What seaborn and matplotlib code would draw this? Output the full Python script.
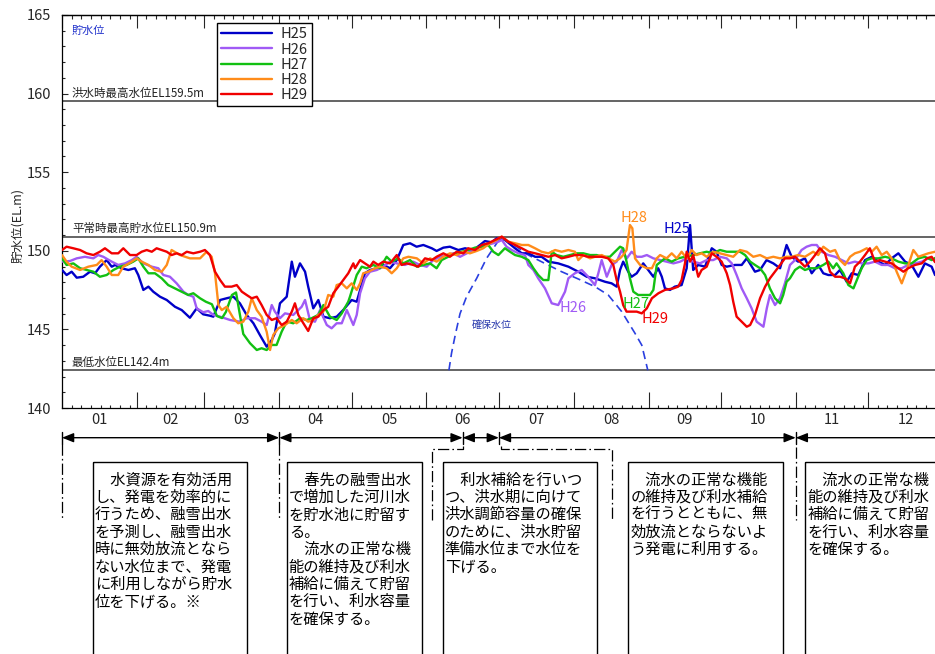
import matplotlib
matplotlib.use("Agg")
import matplotlib.pyplot as plt
from matplotlib.patches import Rectangle, FancyArrowPatch
from matplotlib.transforms import blended_transform_factory
import seaborn as sns

# ---------------------------------------------------------------------------
# Reservoir water level (EL. m) by day of year, one series per fiscal year
# ---------------------------------------------------------------------------
H25_DAY = [0, 1.9, 4.0, 6.1, 8.8, 11.6, 13.7, 15.7, 18.5, 20.6,
           22.0, 24.7, 27.5, 30.2, 31.6, 33.7, 35.8, 37.8, 40.6, 43.4,
           46.8, 49.6, 53.0, 55.8, 58.5, 61.3, 62.7, 65.5, 68.2, 71.0,
           73.7, 76.5, 79.3, 82.0, 84.8, 86.9, 88.2, 90.3, 93.1, 95.2,
           96.5, 98.6, 100.7, 102.0, 104.1, 106.2, 108.3, 111.0, 113.8, 116.5,
           120.0, 122.1, 125.5, 127.6, 130.4, 133.1, 135.9, 138.7, 141.4, 144.2,
           146.9, 149.7, 153.2, 155.2, 158.0, 160.7, 164.2, 167.0, 170.4, 173.2,
           175.2, 178.0, 180.1, 183.5, 187.7, 190.5, 193.2, 196.0, 198.7, 201.5,
           205.6, 209.8, 213.9, 217.4, 220.8, 225.0, 227.7, 229.8, 231.2, 232.5,
           234.6, 236.0, 238.1, 240.8, 242.9, 245.0, 247.0, 248.5, 249.8, 251.9,
           253.9, 256.7, 258.8, 260.2, 261.5, 263.6, 266.4, 269.2, 271.2, 273.3,
           275.4, 278.8, 281.6, 283.7, 287.1, 289.2, 291.9, 294.7, 297.5, 300.2,
           302.3, 305.0, 307.8, 310.6, 313.3, 315.4, 317.5, 320.3, 322.3, 325.1,
           327.2, 329.9, 332.7, 335.5, 338.2, 341.0, 343.7, 346.5, 349.3, 352.0,
           354.8, 357.5, 360.3, 361.7, 365.0]
H25_LEVEL = [148.78, 148.46, 148.67, 148.29, 148.35, 148.67, 148.57, 148.99, 149.41, 148.99,
             149.10, 148.89, 148.78, 148.89, 148.46, 147.51, 147.72, 147.40, 147.08, 146.87,
             146.44, 146.23, 145.74, 146.34, 145.96, 145.87, 145.81, 146.87, 146.98, 147.08,
             146.66, 145.92, 145.39, 144.64, 143.90, 144.33, 144.75, 146.66, 147.08, 149.31,
             148.35, 149.20, 148.67, 147.72, 146.34, 146.87, 145.81, 145.71, 145.81, 146.23,
             146.87, 146.76, 148.57, 148.78, 148.89, 149.10, 148.89, 149.41, 150.37, 150.48,
             150.26, 150.37, 150.16, 149.99, 150.20, 150.26, 150.05, 150.16, 150.05, 150.37,
             150.62, 150.54, 150.80, 150.69, 150.16, 149.84, 149.84, 149.62, 149.62, 149.31,
             149.20, 148.99, 148.67, 148.35, 148.25, 148.03, 147.93, 147.72, 148.78, 149.31,
             148.67, 148.35, 148.57, 149.20, 148.78, 148.35, 148.89, 148.35, 147.61, 147.51,
             147.72, 147.82, 148.89, 151.64, 148.78, 149.10, 148.99, 150.16, 149.94, 149.10,
             148.99, 149.10, 149.10, 149.52, 148.67, 148.78, 149.41, 149.20, 148.89, 150.37,
             149.62, 149.31, 149.52, 148.57, 149.10, 148.57, 148.46, 148.46, 148.78, 148.03,
             148.57, 148.46, 149.41, 149.62, 149.31, 149.10, 149.52, 149.84, 149.31, 149.10,
             148.35, 149.20, 148.99, 148.46, 148.80]

H26_DAY = [0, 3.3, 6.1, 9.5, 13.0, 15.0, 17.1, 20.6, 23.3, 26.1,
           28.9, 30.9, 33.7, 37.2, 39.9, 42.0, 44.7, 47.5, 50.3, 52.3,
           54.4, 55.8, 58.5, 60.6, 62.7, 65.5, 69.6, 73.7, 76.5, 80.0,
           82.7, 84.8, 86.9, 88.2, 90.3, 92.4, 95.8, 99.3, 100.7, 102.7,
           104.8, 106.9, 109.7, 111.7, 113.8, 115.9, 118.0, 120.7, 122.1, 123.5,
           125.5, 127.6, 130.4, 133.1, 135.9, 138.7, 142.1, 145.5, 148.3, 151.1,
           153.8, 156.6, 159.4, 162.1, 164.9, 167.7, 170.4, 173.2, 175.9, 178.7,
           180.8, 182.2, 184.2, 186.3, 189.1, 191.8, 193.2, 195.3, 197.3, 200.1,
           202.9, 205.6, 208.4, 209.8, 212.5, 215.3, 218.0, 220.8, 222.2, 223.6,
           225.7, 227.7, 229.8, 231.9, 234.0, 236.0, 238.1, 240.2, 242.3, 245.0,
           247.8, 250.5, 253.3, 256.1, 258.8, 261.6, 264.3, 267.1, 269.8, 272.6,
           275.4, 277.5, 279.5, 281.6, 283.7, 285.7, 287.8, 290.6, 292.0, 293.3,
           295.4, 297.5, 299.5, 301.6, 303.7, 306.4, 308.5, 310.6, 312.7, 314.7,
           317.5, 320.3, 323.0, 325.8, 328.5, 331.3, 334.1, 336.8, 339.6, 342.3,
           345.1, 347.9, 350.6, 353.4, 356.2, 358.9, 361.7, 365.0]
H26_LEVEL = [149.31, 149.35, 149.52, 149.62, 149.52, 149.73, 149.62, 149.31, 149.10, 149.20,
             149.41, 149.62, 149.20, 148.99, 148.89, 148.46, 148.35, 147.93, 147.40, 147.19,
             147.08, 146.34, 146.09, 146.17, 145.92, 145.81, 145.60, 145.49, 145.71, 145.71,
             145.49, 145.28, 146.55, 146.13, 145.71, 146.02, 145.92, 146.44, 146.87, 145.60,
             145.49, 146.23, 145.28, 145.07, 145.39, 145.39, 146.23, 145.28, 145.92, 147.30,
             148.25, 148.67, 148.78, 148.99, 149.31, 149.20, 149.10, 149.31, 149.10, 148.99,
             149.41, 149.62, 149.73, 149.84, 149.62, 149.84, 150.05, 150.26, 150.37, 150.48,
             150.58, 150.69, 150.26, 150.05, 149.84, 149.73, 149.10, 148.78, 148.25, 147.61,
             146.66, 146.55, 147.40, 148.25, 148.57, 148.78, 148.35, 147.82, 148.57, 149.41,
             148.35, 149.10, 149.31, 150.05, 149.52, 149.94, 149.62, 149.62, 149.73, 149.52,
             149.41, 149.31, 149.20, 149.31, 149.52, 149.31, 149.20, 149.41, 149.41, 149.62,
             149.52, 149.20, 148.46, 147.61, 146.98, 146.34, 145.49, 145.17, 146.34, 147.19,
             146.55, 146.98, 147.93, 149.10, 149.41, 150.05, 150.26, 150.37, 150.37, 149.94,
             149.73, 149.62, 149.41, 149.20, 149.31, 149.20, 149.20, 149.31, 149.10, 149.10,
             148.89, 148.89, 149.10, 149.20, 149.31, 149.52, 149.41, 149.30]

H27_DAY = [0, 1.9, 4.7, 7.5, 10.2, 13.0, 15.7, 18.5, 21.3, 24.0,
           26.8, 29.5, 31.6, 33.7, 35.8, 38.5, 41.3, 44.0, 46.8, 49.6,
           52.3, 54.4, 57.2, 59.6, 62.1, 64.2, 66.3, 67.9, 70.4, 72.1,
           73.5, 75.1, 77.9, 80.7, 82.7, 84.8, 86.9, 88.9, 91.0, 93.1,
           95.8, 98.6, 101.4, 103.4, 106.2, 108.3, 111.0, 113.8, 115.9, 118.6,
           119.3, 122.1, 124.2, 126.2, 129.0, 131.7, 134.5, 136.6, 139.3, 141.4,
           144.2, 147.0, 149.7, 152.5, 155.2, 157.3, 160.0, 162.8, 165.6, 168.3,
           171.1, 173.9, 176.6, 178.7, 180.8, 183.5, 185.6, 187.7, 190.5, 193.2,
           195.3, 197.3, 199.4, 201.5, 202.9, 204.9, 207.7, 210.5, 213.2, 216.0,
           218.8, 221.5, 224.3, 227.0, 229.1, 231.2, 232.5, 233.9, 235.3, 236.7,
           238.7, 240.8, 243.6, 245.0, 246.4, 249.8, 252.6, 255.3, 258.1, 261.5,
           264.3, 267.1, 269.8, 272.6, 275.4, 278.1, 280.9, 283.0, 285.1, 287.1,
           289.2, 291.3, 293.3, 295.4, 297.5, 298.8, 300.2, 301.6, 303.7, 305.7,
           307.8, 309.9, 312.7, 315.4, 317.5, 319.5, 320.9, 323.7, 325.8, 327.9,
           329.3, 331.3, 333.4, 335.5, 338.2, 341.0, 343.7, 346.5, 349.3, 352.0,
           354.8, 357.5, 360.3, 361.7, 365.0]
H27_LEVEL = [149.52, 149.10, 149.20, 148.89, 148.78, 148.67, 148.35, 148.46, 148.78, 148.99,
             149.10, 149.31, 149.52, 148.99, 148.57, 148.57, 148.25, 147.82, 147.61, 147.40,
             147.19, 147.30, 146.98, 146.76, 146.60, 145.85, 145.72, 146.11, 147.19, 147.35,
             146.11, 144.71, 144.12, 143.69, 143.80, 143.69, 144.01, 144.01, 144.85, 145.50,
             145.39, 145.71, 145.60, 145.71, 145.92, 146.55, 145.81, 145.60, 146.02, 146.76,
             147.08, 148.46, 148.99, 148.89, 149.10, 148.89, 149.62, 149.31, 149.52, 149.20,
             149.41, 148.99, 149.10, 149.20, 148.89, 149.41, 149.62, 149.84, 149.94, 150.05,
             150.20, 150.26, 150.37, 149.94, 149.73, 150.16, 149.94, 149.73, 149.62, 149.41,
             148.89, 148.46, 148.14, 148.14, 149.94, 149.73, 149.62, 149.73, 149.84, 149.84,
             149.73, 149.73, 149.62, 149.62, 149.94, 150.26, 150.16, 149.31, 148.25, 147.40,
             147.19, 147.19, 147.19, 147.51, 149.10, 149.52, 149.31, 149.52, 149.62, 149.73,
             149.84, 149.94, 149.84, 150.05, 149.94, 149.94, 149.94, 149.73, 149.31, 149.10,
             148.89, 148.46, 147.61, 146.98, 146.66, 147.19, 148.03, 148.25, 148.78, 148.99,
             148.78, 148.89, 148.89, 149.10, 149.31, 148.89, 149.20, 148.57, 147.82, 147.61,
             148.14, 148.89, 149.41, 149.52, 149.52, 149.62, 149.52, 149.31, 149.20, 149.20,
             149.52, 149.62, 149.41, 149.54, 149.50]

H28_DAY = [0, 1.9, 4.0, 7.5, 10.9, 14.4, 16.4, 18.5, 20.6, 23.3,
           25.4, 28.9, 30.9, 33.0, 35.8, 38.5, 41.3, 43.4, 45.4, 48.9,
           53.0, 57.2, 59.9, 62.0, 63.4, 64.8, 66.2, 68.2, 71.0, 73.0,
           75.1, 77.2, 78.6, 80.7, 82.7, 84.8, 86.2, 87.5, 89.6, 92.4,
           95.2, 97.2, 100.0, 102.0, 104.1, 106.2, 108.3, 110.3, 112.4, 113.8,
           115.9, 118.0, 120.0, 122.1, 123.5, 124.8, 126.9, 129.7, 131.7, 134.5,
           136.6, 138.7, 141.4, 143.5, 147.0, 149.7, 152.5, 155.2, 158.0, 160.7,
           163.5, 166.3, 169.0, 171.8, 174.5, 177.3, 180.1, 182.2, 184.9, 187.7,
           190.5, 193.2, 196.0, 198.7, 201.5, 204.3, 207.0, 209.8, 212.5, 213.9,
           216.0, 218.8, 220.8, 223.6, 226.3, 229.1, 231.2, 232.5, 233.9, 235.3,
           236.3, 237.4, 239.5, 242.3, 244.4, 246.4, 247.8, 250.5, 252.6, 254.7,
           256.7, 258.8, 260.9, 262.9, 265.0, 267.1, 269.8, 272.6, 275.4, 278.1,
           280.9, 283.7, 286.4, 289.2, 292.0, 294.7, 297.5, 300.2, 302.3, 305.0,
           307.8, 311.2, 313.3, 315.4, 318.2, 320.3, 322.3, 324.4, 326.5, 328.5,
           330.6, 333.4, 335.5, 337.5, 339.6, 341.7, 343.7, 345.8, 347.9, 350.0,
           352.7, 354.8, 356.8, 358.9, 361.7, 365.0]
H28_LEVEL = [149.73, 149.31, 148.99, 148.78, 148.99, 149.10, 149.41, 148.99, 148.46, 148.46,
             148.99, 149.31, 149.52, 149.31, 149.10, 148.78, 148.67, 149.10, 150.05, 149.73,
             149.52, 149.52, 149.94, 149.62, 148.57, 146.55, 146.23, 146.44, 145.71, 145.39,
             145.49, 146.13, 146.98, 146.23, 145.81, 144.85, 143.69, 144.64, 145.07, 145.28,
             145.60, 145.39, 145.71, 145.49, 145.60, 145.92, 146.13, 147.19, 147.08, 147.82,
             147.93, 147.61, 147.93, 147.51, 147.93, 148.57, 148.67, 148.89, 148.99, 148.89,
             148.57, 148.89, 149.52, 149.62, 149.52, 149.20, 149.52, 149.31, 149.62, 149.84,
             149.73, 149.94, 149.84, 149.99, 150.16, 150.48, 150.69, 150.90, 150.58, 150.48,
             150.37, 150.37, 150.16, 149.94, 149.84, 150.05, 149.94, 150.05, 149.94, 149.41,
             149.73, 149.52, 149.62, 149.73, 149.52, 149.31, 149.52, 149.73, 150.05, 151.64,
             151.43, 149.52, 149.10, 148.89, 148.89, 149.52, 149.73, 149.52, 149.84, 149.52,
             149.94, 149.52, 150.05, 149.73, 149.84, 149.62, 149.94, 149.84, 149.73, 149.62,
             150.05, 149.94, 149.62, 149.73, 149.52, 149.62, 149.52, 149.62, 149.62, 149.73,
             149.62, 149.94, 149.73, 150.26, 149.94, 150.05, 149.41, 149.10, 149.62, 149.84,
             149.94, 150.16, 149.94, 150.26, 149.73, 149.94, 149.52, 148.67, 147.93, 148.78,
             150.05, 149.62, 149.73, 149.84, 149.94, 149.90]

H29_DAY = [0, 1.9, 4.7, 7.5, 10.2, 13.0, 15.7, 17.8, 20.6, 23.3,
           25.4, 28.2, 30.9, 33.0, 35.1, 37.2, 39.2, 41.3, 43.4, 45.4,
           47.5, 49.6, 51.7, 54.4, 57.2, 59.2, 61.3, 63.4, 65.5, 67.5,
           70.3, 72.4, 74.5, 76.5, 78.6, 80.7, 82.7, 84.8, 86.9, 88.9,
           91.0, 93.1, 95.2, 96.5, 97.9, 100.0, 102.0, 104.1, 106.2, 108.3,
           110.3, 112.4, 114.5, 116.5, 118.6, 120.7, 121.4, 123.5, 125.5, 127.6,
           129.0, 131.0, 133.1, 135.9, 138.7, 140.7, 142.8, 145.5, 147.6, 150.4,
           153.2, 155.2, 158.0, 160.7, 163.5, 166.3, 168.3, 171.1, 173.9, 176.6,
           179.4, 182.2, 184.9, 187.7, 190.5, 193.2, 196.0, 198.7, 201.5, 204.3,
           207.0, 209.8, 212.5, 215.3, 218.0, 220.8, 223.6, 226.3, 228.4, 229.8,
           231.2, 232.5, 233.9, 236.0, 238.1, 240.2, 242.3, 244.4, 247.1, 249.8,
           253.3, 255.3, 256.7, 258.1, 258.8, 260.2, 261.5, 263.6, 265.0, 267.1,
           269.2, 271.2, 273.3, 275.4, 276.8, 278.1, 279.5, 281.6, 283.7, 285.1,
           287.1, 289.2, 291.3, 293.3, 295.4, 297.5, 299.5, 301.6, 303.7, 305.7,
           307.8, 309.9, 312.0, 314.0, 316.1, 318.2, 320.3, 322.3, 324.4, 326.5,
           328.5, 330.6, 332.7, 334.7, 336.8, 338.9, 341.0, 343.7, 346.5, 348.6,
           350.6, 353.4, 356.2, 358.3, 360.3, 361.7, 365.0]
H29_LEVEL = [150.05, 150.26, 150.16, 150.05, 149.84, 149.73, 149.94, 150.16, 149.84, 149.84,
             150.16, 149.73, 149.73, 149.94, 150.05, 149.94, 150.16, 150.05, 149.94, 149.73,
             149.84, 149.73, 149.94, 149.84, 149.94, 150.05, 149.73, 148.67, 148.14, 147.72,
             147.72, 147.82, 147.40, 147.19, 146.98, 147.08, 146.55, 145.92, 145.60, 145.71,
             145.28, 145.49, 146.13, 146.66, 145.92, 145.39, 144.90, 145.71, 145.81, 146.23,
             146.44, 147.30, 147.72, 148.14, 148.57, 149.20, 148.89, 149.41, 149.20, 148.99,
             149.31, 149.10, 149.31, 149.20, 149.73, 149.10, 149.20, 149.10, 148.99, 149.52,
             149.41, 149.62, 149.84, 149.62, 149.94, 149.84, 150.16, 150.05, 150.37, 150.48,
             150.69, 150.90, 150.58, 150.37, 150.16, 149.94, 149.84, 149.73, 149.62, 149.73,
             149.52, 149.62, 149.73, 149.73, 149.62, 149.62, 149.62, 149.52, 149.10, 148.14,
             147.40, 146.55, 146.13, 146.13, 146.13, 146.02, 146.34, 146.98, 147.30, 147.51,
             147.61, 147.72, 148.14, 149.20, 149.94, 149.31, 149.73, 148.35, 148.78, 148.99,
             149.84, 149.62, 149.31, 148.57, 147.82, 146.76, 145.81, 145.49, 145.17, 145.28,
             145.92, 146.98, 147.72, 148.25, 148.67, 149.10, 149.52, 149.52, 149.62, 149.31,
             148.99, 149.31, 149.73, 150.16, 149.84, 148.67, 148.35, 148.35, 148.25, 147.93,
             148.99, 149.31, 149.73, 150.16, 149.31, 149.41, 149.31, 149.20, 148.89, 148.67,
             148.89, 149.10, 149.20, 149.52, 149.62, 149.28, 149.40]

# Secured water level curve (確保水位) for the flood season
SECURED_DAY = [160.3, 161.4, 163.0, 164.9, 167.6, 171.8, 175.9, 180.1, 181.5,
               188.0, 193.2, 200.0, 207.0, 214.0, 220.8, 226.3, 231.9, 237.4, 240.2, 242.7]
SECURED_LEVEL = [142.4, 143.5, 144.7, 146.0, 147.08, 148.25, 149.52, 150.48, 150.85,
                 150.30, 149.73, 149.20, 148.67, 148.20, 147.72, 147.19, 146.13, 144.75, 144.00, 142.4]

# Reference levels
LEVEL_LINES = [159.5, 150.9, 142.4]
LEVEL_TEXT = ["洪水時最高水位EL159.5m", "平常時最高貯水位EL150.9m", "最低水位EL142.4m"]

SERIES_NAMES = ["H25", "H26", "H27", "H28", "H29"]
SERIES_COLORS = ["#0000c8", "#a05af5", "#12c012", "#ff8c1a", "#f00000"]

MONTH_START = [0, 31, 59, 90, 120, 151, 181, 212, 243, 273, 304, 334, 365]
MONTH_LABELS = ["01", "02", "03", "04", "05", "06", "07", "08", "09", "10", "11", "12"]

# Operation periods (start day of each period) and their descriptions
PERIOD_BOUNDS = [0, 90, 166, 181, 304, 372]
NOTE_TEXTS = [
    ["\u3000水資源を有効活用", "し、発電を効率的に", "行うため、融雪出水", "を予測し、融雪出水",
     "時に無効放流となら", "ない水位まで、発電", "に利用しながら貯水", "位を下げる。※"],
    ["\u3000春先の融雪出水", "で増加した河川水", "を貯水池に貯留す", "る。",
     "\u3000流水の正常な機", "能の維持及び利水", "補給に備えて貯留", "を行い、利水容量", "を確保する。"],
    ["\u3000利水補給を行いつ", "つ、洪水期に向けて", "洪水調節容量の確保", "のために、洪水貯留",
     "準備水位まで水位を", "下げる。"],
    ["\u3000流水の正常な機能", "の維持及び利水補給", "を行うとともに、無", "効放流とならないよ",
     "う発電に利用する。"],
    ["\u3000流水の正常な機", "能の維持及び利水", "補給に備えて貯留", "を行い、利水容量", "を確保する。"],
]
NOTE_SPAN = [(12.7, 76.8), (93.1, 149.0), (157.7, 221.7), (234.6, 298.8), (307.8, 400.0)]

# ---------------------------------------------------------------------------
sns.set_style("white")
JP = ["Noto Sans CJK JP", "DejaVu Sans"]
NUM = ["Liberation Sans Narrow", "Noto Sans CJK JP", "DejaVu Sans"]
plt.rcParams["font.family"] = JP
plt.rcParams["axes.unicode_minus"] = False

W, H = 935, 654
fig = plt.figure(figsize=(W / 100, H / 100), dpi=100)
fig.patch.set_facecolor("white")

# main axes: the right end of December runs a little past the canvas
ax = fig.add_axes([62 / W, 1 - 408 / H, 881 / W, 393 / H])
ax.set_xlim(0, 365)
ax.set_ylim(140, 165)

for y, label in zip(LEVEL_LINES, LEVEL_TEXT):
    ax.axhline(y, color="#3a3a3a", lw=1.1, zorder=1)
    ax.text(4.1, y + 0.1, label, fontsize=8.3, color="#222222", va="bottom", ha="left")

series = [(H25_DAY, H25_LEVEL), (H26_DAY, H26_LEVEL), (H27_DAY, H27_LEVEL),
          (H28_DAY, H28_LEVEL), (H29_DAY, H29_LEVEL)]
for (d, v), name, c in zip(series, SERIES_NAMES, SERIES_COLORS):
    sns.lineplot(x=d, y=v, ax=ax, color=c, lw=1.7, label=name,
                 sort=False, estimator=None, zorder=3)

sns.lineplot(x=SECURED_DAY, y=SECURED_LEVEL, ax=ax, color="#2a3fe0", lw=1.2,
             sort=False, estimator=None, zorder=2)
ax.lines[-1].set_dashes([5, 3])

handles, labels = ax.get_legend_handles_labels()
leg = ax.legend(handles[:5], labels[:5], loc="upper left",
                bbox_to_anchor=((217 - 62) / 881, (408 - 23) / 393),
                frameon=True, fancybox=False, edgecolor="black", framealpha=1,
                prop={"family": NUM, "size": 10.5}, handlelength=3.5,
                handletextpad=0.55, labelspacing=0.08, borderpad=0.3,
                borderaxespad=0)
leg.get_frame().set_linewidth(1.0)

# series tags and other in-plot annotations
ax.text(4.1, 163.98, "貯水位", fontsize=8, color="#2233cc", va="center", ha="left")
ax.text(178.1, 145.28, "確保水位", fontsize=7.2, color="#2233aa", va="center", ha="center")
TAGS = [("H28", 237.0, 152.09, SERIES_COLORS[3]), ("H25", 254.8, 151.39, SERIES_COLORS[0]),
        ("H26", 211.7, 146.36, SERIES_COLORS[1]), ("H27", 237.8, 146.62, SERIES_COLORS[2]),
        ("H29", 245.6, 145.66, SERIES_COLORS[4])]
for t, x, y, c in TAGS:
    ax.text(x, y, t, color=c, fontsize=10.5, ha="center", va="center", family=NUM)

# axes styling
for s in ax.spines.values():
    s.set_color("black")
    s.set_linewidth(0.9)
ax.set_yticks(range(140, 166, 5))
ax.set_yticks(range(140, 166), minor=True)
ax.set_yticklabels([str(v) for v in range(140, 166, 5)], family=NUM, fontsize=10.5)
ax.tick_params(axis="y", which="major", direction="in", length=4.5, width=0.8, pad=8,
               left=True, right=False)
ax.tick_params(axis="y", which="minor", direction="in", length=2.5, width=0.8,
               left=True, right=False)

minor_days = []
for a, b in zip(MONTH_START[:-1], MONTH_START[1:]):
    minor_days += [a + k for k in range(4, b - a - 1, 4)]
ax.set_xticks(MONTH_START)
ax.set_xticks(minor_days, minor=True)
ax.set_xticklabels([])
ax.tick_params(axis="x", which="major", direction="in", length=11.5, width=0.8,
               bottom=True, top=False)
ax.tick_params(axis="x", which="minor", direction="in", length=2.2, width=0.8,
               bottom=True, top=False)
top = ax.secondary_xaxis("top")
top.set_xticks(MONTH_START)
top.set_xticks(minor_days, minor=True)
top.set_xticklabels([])
top.tick_params(axis="x", which="major", direction="in", length=9.5, width=0.8)
top.tick_params(axis="x", which="minor", direction="in", length=3, width=0.8)
top.spines["top"].set_linewidth(0.9)

bt = blended_transform_factory(ax.transData, ax.transAxes)
for a, b, lab in zip(MONTH_START[:-1], MONTH_START[1:], MONTH_LABELS):
    ax.text((a + b) / 2, -0.0305, lab, transform=bt, ha="center", va="center",
            fontsize=10.5, family=NUM, clip_on=False)

ax.set_xlabel("")
ax.set_ylabel("")
fig.text(18 / W, 1 - 225 / H, "貯水位(EL.m)", rotation=90, ha="center", va="center",
         fontsize=9)

# ---------------------------------------------------------------------------
# Operation periods below the chart (x in days, y in canvas pixels from top)
low = fig.add_axes([62 / W, 0, 881 / W, 246 / H])
low.set_xlim(0, 365)
low.set_ylim(654, 408)
low.axis("off")

ARROW_Y = 437.7
for a, b in zip(PERIOD_BOUNDS[:-1], PERIOD_BOUNDS[1:]):
    arr = FancyArrowPatch((a, ARROW_Y), (b, ARROW_Y),
                          arrowstyle="<|-|>,head_length=0.7,head_width=0.28",
                          mutation_scale=10, color="black", lw=1.0,
                          shrinkA=0, shrinkB=0, clip_on=False)
    low.add_patch(arr)
for a in PERIOD_BOUNDS[:-1]:
    low.plot([a, a], [432, 443.5], color="black", lw=1.0, clip_on=False)

DASHDOT = (0, (9, 2.5, 1.3, 2.5))
for a, y0 in [(0, 444), (90, 444), (304, 447)]:
    low.plot([a, a], [y0, 520], color="black", lw=0.9, linestyle=DASHDOT, clip_on=False)
low.plot([153.1, 153.1, 166.2, 166.2], [520, 449.3, 449.3, 446], color="black", lw=0.9,
         linestyle=DASHDOT, clip_on=False)
low.plot([181.8, 181.8, 227.7, 227.7], [446, 449.3, 449.3, 520], color="black", lw=0.9,
         linestyle=DASHDOT, clip_on=False)

ROW0, ROW_STEP = 480.0, 17.4
for (x0, x1), lines in zip(NOTE_SPAN, NOTE_TEXTS):
    low.add_patch(Rectangle((x0, 462.3), x1 - x0, 300, fill=False, ec="black", lw=1.0,
                            clip_on=False))
    for i, line in enumerate(lines):
        low.text(x0 + 0.9, ROW0 + i * ROW_STEP, line, fontsize=11, ha="left", va="center",
                 color="black", clip_on=False)

fig.savefig("out.png", dpi=100, facecolor="white")
